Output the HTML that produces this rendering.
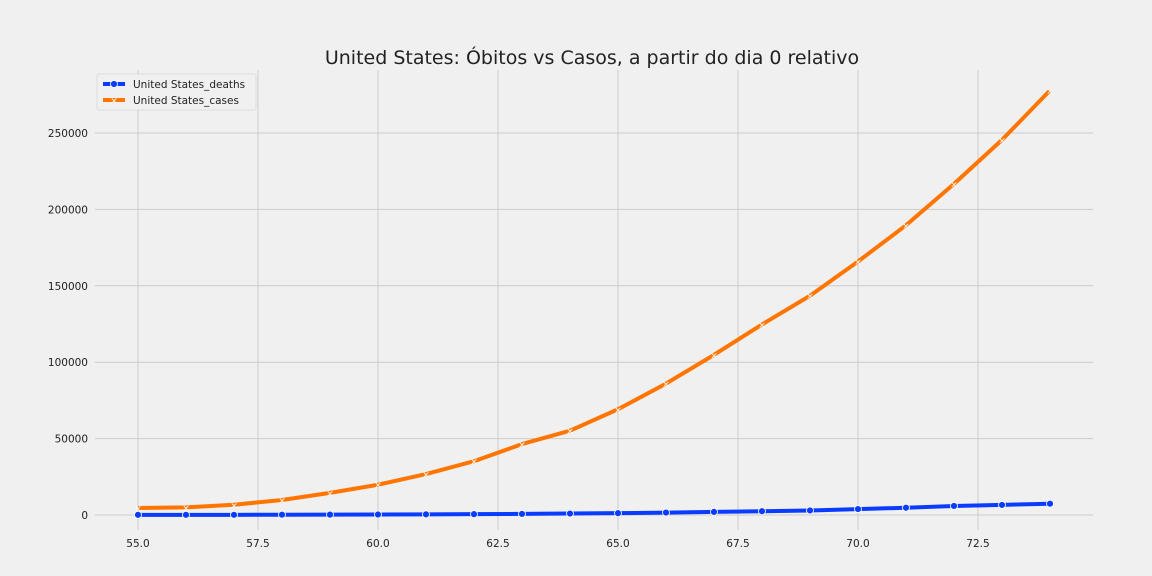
<!DOCTYPE html>
<html><head><meta charset="utf-8"><style>
body{margin:0;background:#f0f0f0;}
svg{display:block;font-family:"DejaVu Sans","Liberation Sans",sans-serif;}
</style></head><body>
<svg id="chart" width="1152" height="576">
<rect width="1152" height="576" fill="#f0f0f0"/>
<text x="592" y="64" text-anchor="middle" font-size="19" fill="#222">United States: Óbitos vs Casos, a partir do dia 0 relativo</text>
<g id="grid"></g><g id="series"></g>
<g>
<rect x="97" y="74" width="159" height="36" fill="#f0f0f0" stroke="#ddd" rx="2"/>
<g><line x1="103" y1="84" x2="125" y2="84" stroke="#0a3cff" stroke-width="4"/><circle cx="114" cy="84" r="3.5" fill="#0a3cff" stroke="#fff" stroke-width="0.8"/><text x="133" y="88" font-size="10.5" fill="#222">United States_deaths</text></g>
<g><line x1="103" y1="100" x2="125" y2="100" stroke="#ff7500" stroke-width="4"/><text x="114" y="103.5" font-size="9" text-anchor="middle" fill="#fff">×</text><text x="133" y="104" font-size="10.5" fill="#222">United States_cases</text></g>
</g>
</svg>
<script>
const days=[55,56,57,58,59,60,61,62,63,64,65,66,67,68,69,70,71,72,73,74];
const cases=[4600,5000,6700,9800,14500,19800,26800,35200,46400,55200,69200,86000,104800,124700,143500,165900,189600,216700,245500,277900];
const deaths=[85,108,118,200,244,307,427,552,706,942,1209,1581,2026,2467,2978,3873,4757,5926,6600,7400];
const xTicks=[55,57.5,60,62.5,65,67.5,70,72.5];
const yTicks=[0,50000,100000,150000,200000,250000];
const NS="http://www.w3.org/2000/svg";
const X=v=>138+(v-55)*48, Y=v=>515-v*0.001528;
const L=95,R=1093,T=70,B=530;
function mk(t,a,p){const e=document.createElementNS(NS,t);for(const k in a)e.setAttribute(k,a[k]);p.appendChild(e);return e;}
const g=document.getElementById('grid'),s=document.getElementById('series');
xTicks.forEach(v=>{const l=mk('line',{x1:X(v),x2:X(v),y1:T,y2:B,stroke:'#cbcbcb','stroke-width':1},g);


const t=mk('text',{x:X(v),y:547,'text-anchor':'middle','font-size':10.5,fill:'#222'},g);t.textContent=v.toFixed(1);

});
yTicks.forEach(v=>{const l=mk('line',{x1:L,x2:R,y1:Y(v),y2:Y(v),stroke:'#cbcbcb','stroke-width':1},g);


const t=mk('text',{x:88,y:Y(v)+4,'text-anchor':'end','font-size':10.5,fill:'#222'},g);t.textContent=v;

});
function line(data,color,name,marker){
const p=mk('polyline',{points:data.map((v,i)=>X(days[i])+','+Y(v)).join(' '),fill:'none',stroke:color,'stroke-width':4,'stroke-linejoin':'round'},s);


data.forEach((v,i)=>{let m;
if(marker==='o'){m=mk('circle',{cx:X(days[i]),cy:Y(v),r:3.5,fill:color,stroke:'#fff','stroke-width':0.8},s);}
else{m=mk('text',{x:X(days[i]),y:Y(v)+3.5,'text-anchor':'middle','font-size':9,fill:'#fff'},s);m.textContent='×';}

});}
line(cases,'#ff7500','cases','x');
line(deaths,'#0a3cff','deaths','o');
</script>
</body></html>
